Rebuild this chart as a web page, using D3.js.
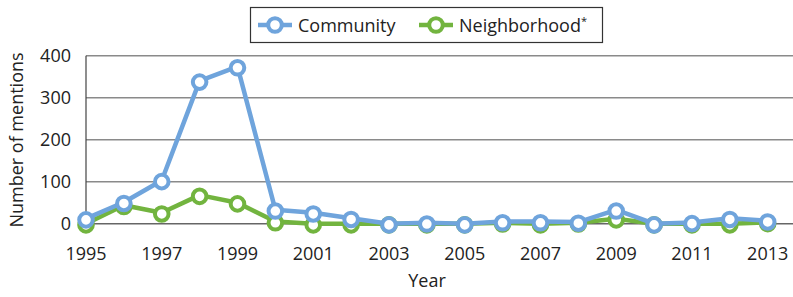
<!DOCTYPE html>
<html>
<head>
<meta charset="utf-8">
<script src="https://cdn.jsdelivr.net/npm/d3@7"></script>
<style>
  html, body { margin: 0; padding: 0; background: #fff; }
  svg { display: block; font-family: "Open Sans", "DejaVu Sans", sans-serif; }
</style>
</head>
<body>
<div id="chart"></div>
<script>
'use strict';

const years = d3.range(1995, 2014);
const community = [12, 51, 103, 340, 374, 33, 26, 13, 0, 2, 0, 5, 5, 4, 33, 0, 3, 13, 7];
const neighborhood = [0, 44, 26, 68, 50, 5, 0, 0, 0, 0, 0, 2, 0, 2, 12, 0, 0, 0, 3];
const yTicks = [0, 100, 200, 300, 400];
const xTicks = [1995, 1997, 1999, 2001, 2003, 2005, 2007, 2009, 2011, 2013];
const seriesNames = ['Community', 'Neighborhood'];
const seriesColors = ['#6fa4dc', '#72b43f'];

const width = 793, height = 297;
const plot = {left: 86, right: 793, top: 55.7, bottom: 223.7};

const svg = d3.select('#chart').append('svg')
    .attr('width', width)
    .attr('height', height);

const x = d3.scaleLinear().domain([1995, 2013]).range([plot.left, 767.7]);
const y = d3.scaleLinear().domain([0, 400]).range([plot.bottom, plot.top]);

// gridlines
svg.append('g')
    .selectAll('line')
    .data(yTicks)
    .join('line')
    .attr('x1', plot.left)
    .attr('x2', plot.right)
    .attr('y1', d => y(d))
    .attr('y2', d => y(d))
    .attr('stroke', d => d === 0 ? '#666' : '#8a8a8a')
    .attr('stroke-width', 1.4);

// left axis line
svg.append('line')
    .attr('x1', plot.left).attr('x2', plot.left)
    .attr('y1', plot.top).attr('y2', plot.bottom)
    .attr('stroke', '#444').attr('stroke-width', 1.2);

// y tick labels
svg.append('g')
    .attr('font-size', 18)
    .attr('fill', '#222')
    .selectAll('text')
    .data(yTicks)
    .join('text')
    .attr('x', 71)
    .attr('y', d => y(d) + 6.5)
    .attr('text-anchor', 'end')
    .text(d => d);

// x tick labels
svg.append('g')
    .attr('font-size', 18)
    .attr('fill', '#222')
    .selectAll('text')
    .data(xTicks)
    .join('text')
    .attr('x', d => x(d))
    .attr('y', 259.5)
    .attr('text-anchor', 'middle')
    .text(d => d);

// axis titles
svg.append('text')
    .attr('x', 427).attr('y', 287)
    .attr('text-anchor', 'middle')
    .attr('font-size', 18)
    .attr('fill', '#222')
    .text('Year');

svg.append('text')
    .attr('transform', 'translate(23,140) rotate(-90)')
    .attr('text-anchor', 'middle')
    .attr('font-size', 18)
    .attr('fill', '#222')
    .text('Number of mentions');

// series
const series = [community, neighborhood];
const line = d3.line()
    .x((d, i) => x(years[i]))
    .y(d => y(d));

// draw green first so blue sits on top
[1, 0].forEach(k => {
    const g = svg.append('g');
    g.append('path')
        .datum(series[k])
        .attr('fill', 'none')
        .attr('stroke', seriesColors[k])
        .attr('stroke-width', 4.5)
        .attr('stroke-linejoin', 'round')
        .attr('d', line);
    g.selectAll('circle')
        .data(series[k])
        .join('circle')
        .attr('cx', (d, i) => x(years[i]))
        .attr('cy', d => y(d) + 1.2)
        .attr('r', 6.8)
        .attr('fill', '#fff')
        .attr('stroke', seriesColors[k])
        .attr('stroke-width', 4);
});

// legend
const legend = svg.append('g');
legend.append('rect')
    .attr('x', 250.5).attr('y', 7.5)
    .attr('width', 352).attr('height', 35)
    .attr('fill', '#fff')
    .attr('stroke', '#333')
    .attr('stroke-width', 1.2);

const legendItems = [
    {x0: 258, label: 'Community', sup: ''},
    {x0: 419, label: 'Neighborhood', sup: '*'}
];
legendItems.forEach((d, k) => {
    const item = legend.append('g');
    item.append('line')
        .attr('x1', d.x0).attr('x2', d.x0 + 34)
        .attr('y1', 25).attr('y2', 25)
        .attr('stroke', seriesColors[k])
        .attr('stroke-width', 4.5);
    item.append('circle')
        .attr('cx', d.x0 + 17).attr('cy', 25)
        .attr('r', 6.8)
        .attr('fill', '#fff')
        .attr('stroke', seriesColors[k])
        .attr('stroke-width', 4);
    const t = item.append('text')
        .attr('x', d.x0 + 40).attr('y', 31.5)
        .attr('font-size', 18)
        .attr('fill', '#222')
        .text(d.label);
    if (d.sup) {
        t.append('tspan')
            .attr('font-size', 11)
            .attr('dy', -7)
            .text(d.sup);
    }
});
</script>
</body>
</html>
